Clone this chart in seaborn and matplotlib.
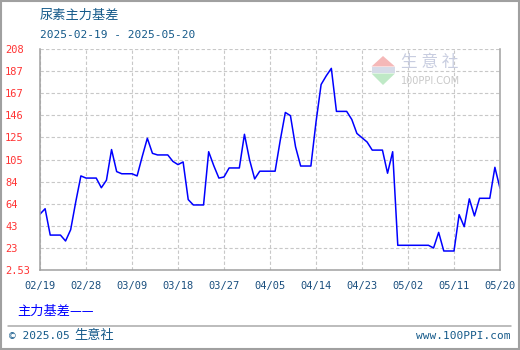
import matplotlib
matplotlib.use("Agg")
import matplotlib.pyplot as plt
import seaborn as sns
import numpy as np
import pandas as pd
from matplotlib.patches import Polygon, Rectangle
from matplotlib.lines import Line2D

# ---------------- data ----------------
title = "尿素主力基差"
subtitle = "2025-02-19 - 2025-05-20"
series_name = "主力基差"
start_date = "2025-02-19"
values = [
    54.5, 59.5, 35.0, 35.0, 35.0, 29.5, 40.0, 66.0, 90.0, 88.0,   # 02/19 - 02/28
    88.0, 88.0, 79.0, 86.0, 114.5, 94.0, 92.0, 92.0, 92.0, 90.0,  # 03/01 - 03/10
    108.0, 125.0, 111.0, 109.5, 109.5, 109.5, 103.5, 100.5, 103.0, 68.0,  # 03/11 - 03/20
    63.0, 63.0, 63.0, 112.5, 99.5, 88.0, 89.0, 97.4, 97.4, 97.4,  # 03/21 - 03/30
    128.7, 105.0, 87.2, 94.4, 94.4, 94.4, 94.4, 123.0, 149.0, 146.0,  # 03/31 - 04/09
    117.0, 99.2, 99.2, 99.2, 140.0, 175.0, 183.0, 190.0, 150.0, 150.0,  # 04/10 - 04/19
    150.0, 142.5, 129.5, 125.5, 121.5, 114.0, 114.0, 114.0, 92.5, 112.5,  # 04/20 - 04/29
    25.5, 25.5, 25.5, 25.5, 25.5, 25.5, 25.5, 23.0, 37.5, 20.2,  # 04/30 - 05/09
    20.2, 20.2, 54.0, 42.8, 68.7, 52.8, 69.2, 69.2, 69.2, 98.0,  # 05/10 - 05/19
    78.5,                                                         # 05/20
]
x_tick_labels = ["02/19", "02/28", "03/09", "03/18", "03/27", "04/05",
                 "04/14", "04/23", "05/02", "05/11", "05/20"]
y_tick_labels = ["2.53", "23", "43", "64", "84", "105", "125", "146", "167", "187", "208"]
y_min, y_max = 2.53, 208.0
footer_left = "© 2025.05"
footer_left_cn = "生意社"
footer_right = "www.100PPI.com"

dates = pd.date_range(start_date, periods=len(values), freq="D")
df = pd.DataFrame({"date": dates, "value": values})
x_ticks = pd.to_datetime(["2025/" + s for s in x_tick_labels], format="%Y/%m/%d")
y_ticks = np.linspace(y_min, y_max, len(y_tick_labels))

# ---------------- style ----------------
sns.set_theme(style="white")
CJK = ["Noto Sans CJK SC", "DejaVu Sans"]
MONO = ["DejaVu Sans Mono", "Noto Sans CJK SC"]
plt.rcParams["font.family"] = CJK

W, H = 520, 350
fig = plt.figure(figsize=(W / 100, H / 100), dpi=100)
fig.patch.set_facecolor("white")


def fx(x):
    return x / W


def fy(y):
    return 1 - y / H


ax = fig.add_axes([fx(40), fy(270), fx(500) - fx(40), fy(49) - fy(270)])
ax.set_facecolor("white")

sns.lineplot(data=df, x="date", y="value", ax=ax, color="#0000ff",
             linewidth=1.1, legend=False)

ax.set_xlim(dates[0], dates[-1])
ax.set_ylim(y_min, y_max)
ax.set_xticks(x_ticks)
ax.set_xticklabels(x_tick_labels, family=MONO, fontsize=7.5, color="#1a4f7f")
ax.set_yticks(y_ticks)
ax.set_yticklabels(y_tick_labels, family=MONO, fontsize=7.5, color="#ff3333", ha="left")
ax.tick_params(axis="y", length=0, pad=25.2)
ax.tick_params(axis="x", length=0, pad=8)
ax.set_xlabel("")
ax.set_ylabel("")

ax.grid(True, color="#c8c8c8", linestyle=(0, (3, 2)), linewidth=0.8)
ax.set_axisbelow(True)
for side in ["left", "right", "bottom"]:
    ax.spines[side].set_color("#a0a0a0")
    ax.spines[side].set_linewidth(1.1)
ax.spines["top"].set_visible(False)

# ---------------- texts ----------------
text_col = "#155a8a"
fig.text(fx(40), fy(15), title, family=CJK, fontsize=9.5, color=text_col, va="center", ha="left")
fig.text(fx(40), fy(35), subtitle, family=MONO, fontsize=8, color=text_col, va="center", ha="left")
fig.text(fx(17), fy(311), series_name + "——", family=CJK, fontsize=9.5, color="#0000ff",
         va="center", ha="left")
fig.text(fx(9), fy(336), footer_left, family=MONO, fontsize=8, color=text_col, va="center", ha="left")
fig.text(fx(74), fy(336), footer_left_cn, family=CJK, fontsize=9.5, color=text_col, va="center", ha="left")
fig.text(fx(510), fy(336), footer_right, family=MONO, fontsize=8, color=text_col, va="center", ha="right")

# separator line and outer frame
fig.add_artist(Line2D([fx(8), fx(511)], [fy(326), fy(326)], color="#aaaaaa", linewidth=1.1,
                      transform=fig.transFigure))
fig.add_artist(Rectangle((0.001, 0.002), 0.997, 0.996, transform=fig.transFigure,
                         fill=False, edgecolor="#a0a0a0", linewidth=1.5))

# watermark
fig.add_artist(Polygon([[fx(383), fy(56)], [fx(371.5), fy(66.5)], [fx(395), fy(66.5)]],
                       closed=True, transform=fig.transFigure, facecolor="#f5b8b8", edgecolor="none"))
fig.add_artist(Rectangle((fx(372), fy(73)), fx(395) - fx(372), fy(67) - fy(73),
                         transform=fig.transFigure, facecolor="#d6dbe8", edgecolor="none"))
fig.add_artist(Polygon([[fx(371.5), fy(73.5)], [fx(395), fy(73.5)], [fx(383), fy(85)]],
                       closed=True, transform=fig.transFigure, facecolor="#bfe9c6", edgecolor="none"))
fig.text(fx(401), fy(63), "生 意 社", family=CJK, fontsize=12, color="#c8cde0",
         va="center", ha="left")
fig.text(fx(401), fy(81), "100PPI.COM", family=["DejaVu Sans"], fontsize=7, color="#c8c8c8",
         va="center", ha="left")

fig.savefig("out.png", dpi=100, facecolor="white")
